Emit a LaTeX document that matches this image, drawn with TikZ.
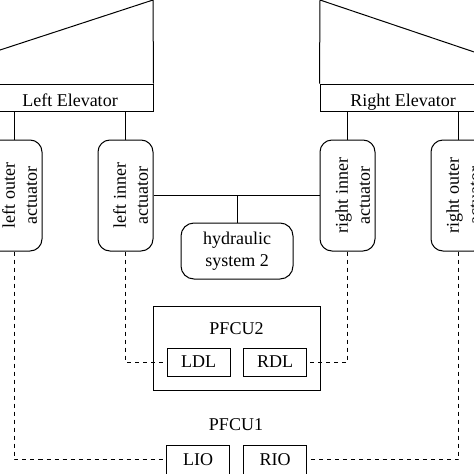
\documentclass[tikz,border=0pt]{standalone}
\usepackage{fontspec}
\setmainfont{Liberation Serif}
\usepackage{graphicx}
\usepackage{tikz}
\usetikzlibrary{calc}
\usetikzlibrary{positioning}

\newcommand{\acttext}[2]{\rotatebox{90}{\raisebox{-7pt}[\height][\depth]{\begin{tabular}{@{}c@{}}#1\\#2\end{tabular}}}}

\begin{document}
\begin{tikzpicture}[x=1pt,y=-1pt,line width=1pt,
        every node/.style={font=\fontsize{18}{22}\selectfont, inner sep=0pt},
        elev/.style={draw, minimum width=166pt, minimum height=27pt, text height=17pt, text depth=0pt},
        act/.style={draw, rounded corners=12pt, minimum width=55pt, minimum height=111pt},
        hyd/.style={draw, rounded corners=13pt, minimum width=112pt, minimum height=56pt, align=center},
        unit/.style={draw, minimum width=63pt, minimum height=28pt},
        wire/.style={dash pattern=on 4pt off 4pt}]
        \useasboundingbox (0,0) rectangle (474,474);
        \clip (0,0) rectangle (474,474);

        % elevators
        \node[elev] (lelev) at (70,97.5) {Left Elevator};
        \node[elev] (relev) at (403,97.5) {Right Elevator};
        \coordinate (ltop) at (153,0);
        \coordinate (lfar) at (-104,84);
        \coordinate (rtop) at (320,0);
        \coordinate (rfar) at (569,84);
        \draw (lelev.north east) -- (ltop) -- (lfar);
        \draw (relev.north west) -- (rtop) -- (rfar);

        % actuators
        \node[act] (lout) at (14.5,195.5) {\acttext{left outer}{actuator}};
        \node[act] (lin) at (125.5,195.5) {\acttext{left inner}{actuator}};
        \node[act] (rin) at (347.5,195.5) {\acttext{right inner}{actuator}};
        \node[act] (rout) at (458.5,195.5) {\acttext{right outer}{actuator}};
        \node[hyd] (hyd) at (237,251) {hydraulic\\system 2};

        \draw (lout.north) -- (lout.north |- lelev.south);
        \draw (lin.north) -- (lin.north |- lelev.south);
        \draw (rin.north) -- (rin.north |- relev.south);
        \draw (rout.north) -- (rout.north |- relev.south);
        \draw (lin.east) -- (rin.west);
        \draw (hyd.north) -- (hyd.north |- lin.east);

        % control units
        \node[draw, minimum width=167pt, minimum height=84pt] (pfcu2) at (236.5,348) {};
        \node (pfcu2lbl) at (236.5,329) {PFCU2};
        \node[unit] (ldl) at (198.5,362) {LDL};
        \node[unit] (rdl) at (275,362) {RDL};
        \node (pfcu1lbl) at (236,425) {PFCU1};
        \node[unit, minimum height=29pt] (lio) at (198,459.5) {LIO};
        \node[unit, minimum height=29pt] (rio) at (275,459.5) {RIO};

        \draw[wire] (lin.south) |- (ldl.west);
        \draw[wire] (rin.south) |- (rdl.east);
        \draw[wire] (lout.south) |- (lio.west);
        \draw[wire] (rout.south) |- (rio.east);
\end{tikzpicture}
\end{document}
